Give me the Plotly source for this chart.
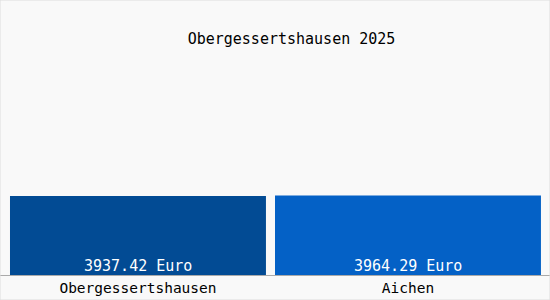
import plotly.graph_objects as go

categories = ["Obergessertshausen", "Aichen"]
values = [3937.42, 3964.29]
labels = ["3937.42 Euro", "3964.29 Euro"]
colors = ["#024b94", "#0461c6"]
title = "Obergessertshausen 2025"

FONT = "DejaVu Sans Mono"

fig = go.Figure(go.Bar(
    x=[0, 1],
    y=values,
    width=[0.948, 0.985],
    marker=dict(color=colors, line=dict(width=0)),
    hoverinfo="skip",
))

for i, lab in enumerate(labels):
    fig.add_annotation(x=i, y=0, xref="x", yref="y", text=lab, showarrow=False,
                       yanchor="bottom", xanchor="center", yshift=-2,
                       font=dict(family=FONT, size=15, color="white"))

fig.update_layout(
    width=550, height=300,
    margin=dict(l=0, r=0, t=40, b=25),
    paper_bgcolor="#f9f9f9",
    plot_bgcolor="#f9f9f9",
    showlegend=False,
    title=dict(text=title, x=0.53, xanchor="center", y=1 - 39 / 300, yanchor="middle",
               font=dict(family=FONT, size=15, color="black")),
    xaxis=dict(
        range=[-0.511, 1.526],
        tickmode="array", tickvals=[0, 1], ticktext=categories,
        tickfont=dict(family=FONT, size=14.5, color="black"),
        showline=True, linecolor="#aaaaaa", linewidth=1,
        showgrid=False, zeroline=False, ticks="",
        fixedrange=True,
    ),
    yaxis=dict(
        range=[0, 3937.42 * 235 / 79],
        visible=False, showgrid=False, zeroline=False,
    ),
)

# outer border
fig.add_shape(type="rect", xref="paper", yref="paper",
              x0=0, x1=1, y0=-25 / 235, y1=1 + 40 / 235,
              line=dict(color="#dddddd", width=1), fillcolor="rgba(0,0,0,0)")

fig.write_html("out.html")
